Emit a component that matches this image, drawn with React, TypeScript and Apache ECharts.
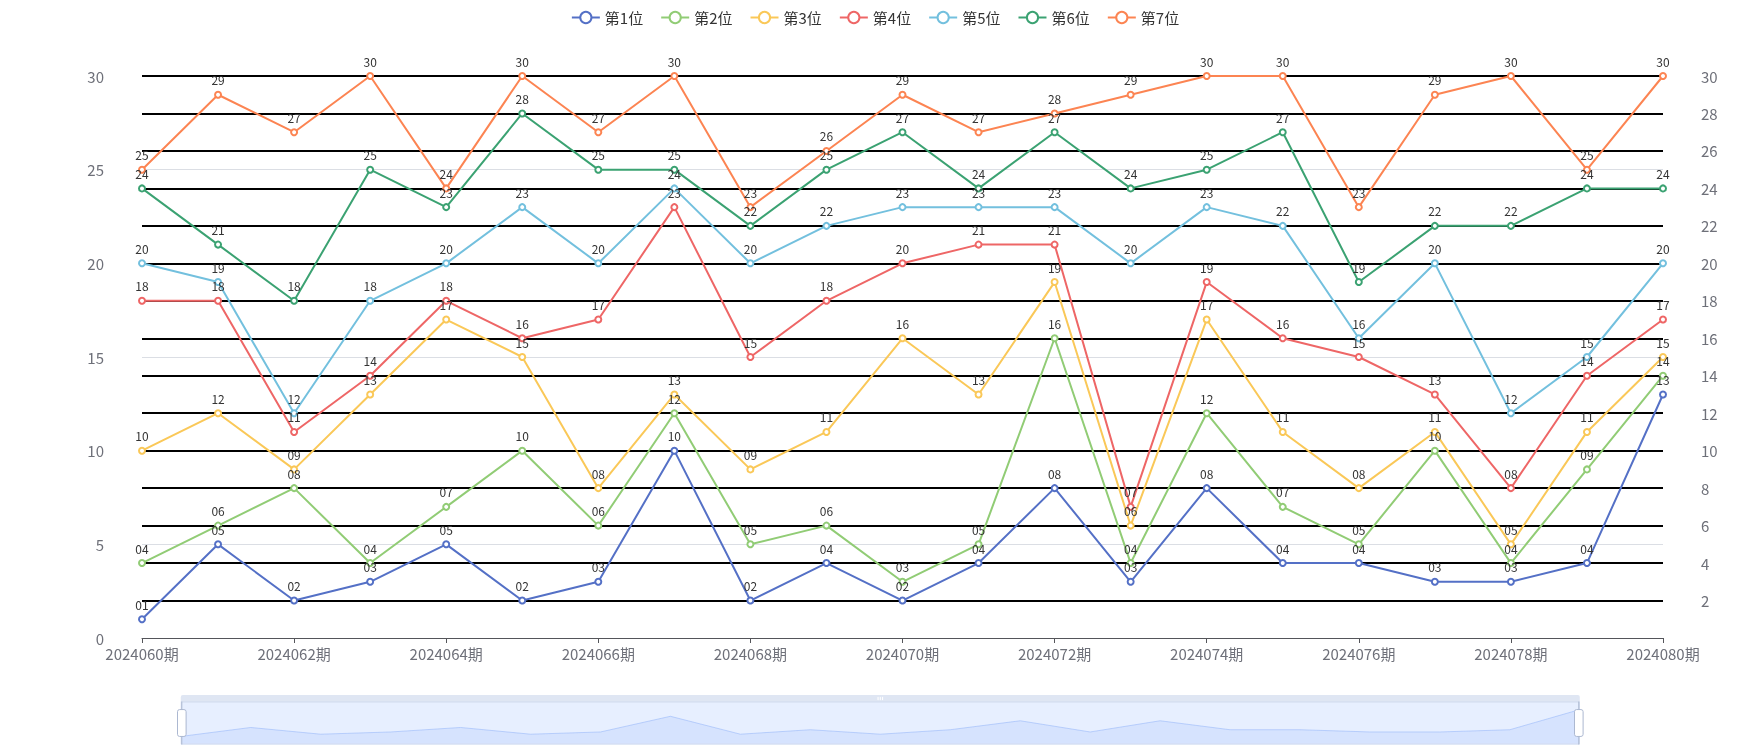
import React, { useEffect, useRef } from "react";
import * as echarts from "echarts";

const periods = [
  "2024060期", "2024061期", "2024062期", "2024063期", "2024064期", "2024065期", "2024066期",
  "2024067期", "2024068期", "2024069期", "2024070期", "2024071期", "2024072期", "2024073期",
  "2024074期", "2024075期", "2024076期", "2024077期", "2024078期", "2024079期", "2024080期",
];

const seriesNames = ["第1位", "第2位", "第3位", "第4位", "第5位", "第6位", "第7位"];

const pos1 = [1, 5, 2, 3, 5, 2, 3, 10, 2, 4, 2, 4, 8, 3, 8, 4, 4, 3, 3, 4, 13];
const pos2 = [4, 6, 8, 4, 7, 10, 6, 12, 5, 6, 3, 5, 16, 4, 12, 7, 5, 10, 4, 9, 14];
const pos3 = [10, 12, 9, 13, 17, 15, 8, 13, 9, 11, 16, 13, 19, 6, 17, 11, 8, 11, 5, 11, 15];
const pos4 = [18, 18, 11, 14, 18, 16, 17, 23, 15, 18, 20, 21, 21, 7, 19, 16, 15, 13, 8, 14, 17];
const pos5 = [20, 19, 12, 18, 20, 23, 20, 24, 20, 22, 23, 23, 23, 20, 23, 22, 16, 20, 12, 15, 20];
const pos6 = [24, 21, 18, 25, 23, 28, 25, 25, 22, 25, 27, 24, 27, 24, 25, 27, 19, 22, 22, 24, 24];
const pos7 = [25, 29, 27, 30, 24, 30, 27, 30, 23, 26, 29, 27, 28, 29, 30, 30, 23, 29, 30, 25, 30];

const allSeries = [pos1, pos2, pos3, pos4, pos5, pos6, pos7];

const palette = ["#5470c6", "#91cc75", "#fac858", "#ee6666", "#73c0de", "#3ba272", "#fc8452"];

const FONT = "'Noto Sans CJK SC', 'Microsoft YaHei', sans-serif";

export default function App() {
  const ref = useRef<HTMLDivElement>(null);
  useEffect(() => {
    if (!ref.current) return;
    const chart = echarts.init(ref.current, undefined, { renderer: "svg" });
    chart.setOption({
      animation: false,
      color: palette,
      textStyle: { fontFamily: FONT },
      legend: {
        top: 5,
        data: seriesNames,
        textStyle: { fontSize: 15, color: "#333" },
        itemGap: 17,
        itemWidth: 28,
      },
      grid: { left: 142, right: 87, top: 76, bottom: 112 },
      xAxis: {
        type: "category",
        boundaryGap: false,
        data: periods,
        axisLabel: { fontSize: 15, color: "#6E7079" },
      },
      yAxis: [
        {
          type: "value",
          min: 0,
          max: 30,
          interval: 5,
          axisLabel: { fontSize: 15, color: "#6E7079", margin: 38 },
        },
        {
          type: "value",
          min: 0,
          max: 30,
          interval: 2,
          position: "right",
          offset: 30,
          axisLabel: { fontSize: 15, color: "#6E7079", margin: 8, showMinLabel: false },
          splitLine: { show: true, showMinLine: false, lineStyle: { color: "#000", width: 2 } },
        },
      ],
      dataZoom: [
        { type: "inside" },
        {
          type: "slider",
          left: 178,
          right: 173,
          top: 695,
          height: 43,
          borderColor: "#d2dbee",
          fillerColor: "rgba(135,175,274,0.2)",
          moveHandleStyle: { color: "#D2DBEE", opacity: 0.7 },
          handleStyle: { color: "#fff", borderColor: "#ACB8D1" },
          dataBackground: {
            lineStyle: { color: "#d2dbee", width: 0.5 },
            areaStyle: { color: "#d2dbee", opacity: 0.2 },
          },
          selectedDataBackground: {
            lineStyle: { color: "#8fb0f7", width: 0.5 },
            areaStyle: { color: "#8fb0f7", opacity: 0.2 },
          },
        },
      ],
      series: allSeries.map((d, i) => ({
        name: seriesNames[i],
        type: "line",
        data: d,
        symbol: "emptyCircle",
        symbolSize: 6,
        lineStyle: { width: 2 },
        label: {
          show: true,
          position: "top",
          fontSize: 12,
          color: "#333",
          formatter: (p: any) => String(p.value).padStart(2, "0"),
        },
      })),
    });
    return () => chart.dispose();
  }, []);
  return (
    <div
      ref={ref}
      style={{ position: "fixed", left: 0, top: 0, width: 1750, height: 750 }}
    />
  );
}
